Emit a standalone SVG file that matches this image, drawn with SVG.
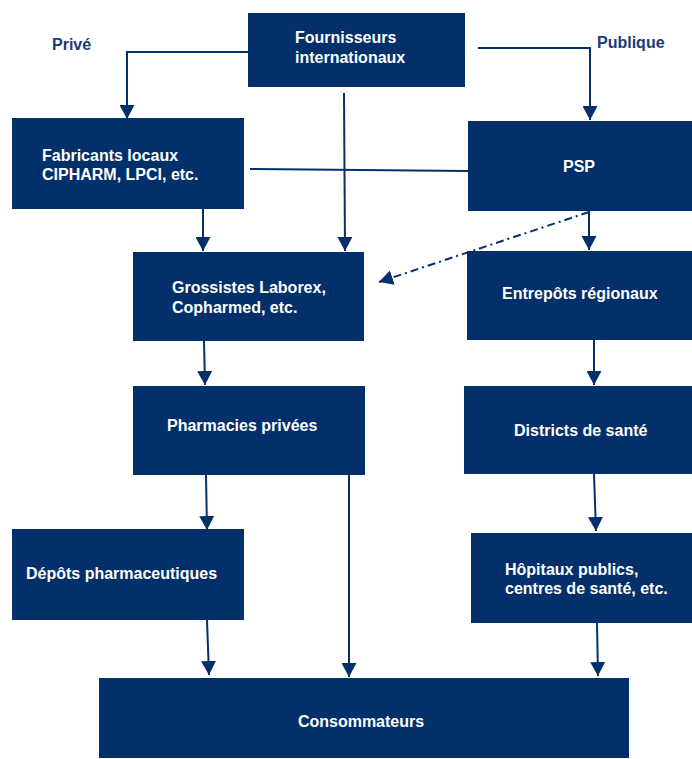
<svg xmlns="http://www.w3.org/2000/svg" width="692" height="759" viewBox="0 0 692 759">
<style>
.box{fill:#03306a}
.t{font-family:"Liberation Sans",Arial,sans-serif;font-weight:bold;font-size:16px;fill:#ffffff}
.lbl{font-family:"Liberation Sans",Arial,sans-serif;font-weight:bold;font-size:16px;fill:#1c3a78}
.c{fill:none;stroke:#03306a;stroke-width:2}
.dd{stroke-dasharray:8,4,2,4}
</style>
<defs>
<marker id="ah" markerUnits="userSpaceOnUse" markerWidth="14" markerHeight="15" refX="14" refY="7.5" orient="auto">
<path d="M0,0 L14,7.5 L0,15 z" fill="#03306a"/>
</marker>
</defs>
<rect width="692" height="759" fill="#ffffff"/>
<text class="lbl" x="52" y="50">Privé</text>
<text class="lbl" x="597" y="48">Publique</text>
<g id="connectors">
<polyline class="c" points="248,52 127,52 127,119" marker-end="url(#ah)"/>
<polyline class="c" points="478,48 590,48 590,120" marker-end="url(#ah)"/>
<line class="c" x1="250" y1="169" x2="468" y2="171"/>
<line class="c" x1="344" y1="93" x2="345" y2="251" marker-end="url(#ah)"/>
<line class="c" x1="203" y1="209" x2="203" y2="251" marker-end="url(#ah)"/>
<line class="c dd" x1="589" y1="212" x2="379" y2="282" marker-end="url(#ah)"/>
<line class="c" x1="589" y1="211" x2="589" y2="250" marker-end="url(#ah)"/>
<line class="c" x1="204" y1="341" x2="205" y2="385" marker-end="url(#ah)"/>
<line class="c" x1="594" y1="340" x2="594" y2="385" marker-end="url(#ah)"/>
<line class="c" x1="206" y1="475" x2="207" y2="530" marker-end="url(#ah)"/>
<line class="c" x1="349" y1="475" x2="349" y2="677" marker-end="url(#ah)"/>
<line class="c" x1="594" y1="474" x2="596" y2="531" marker-end="url(#ah)"/>
<line class="c" x1="207" y1="620" x2="209" y2="675" marker-end="url(#ah)"/>
<line class="c" x1="597" y1="623" x2="598" y2="676" marker-end="url(#ah)"/>
</g>
<g id="fournisseurs">
<rect class="box" x="248" y="13" width="217" height="74"/>
<text class="t" x="295" y="43">Fournisseurs</text>
<text class="t" x="295" y="63">internationaux</text>
</g>
<g id="fabricants">
<rect class="box" x="12" y="118" width="232" height="91"/>
<text class="t" x="42" y="161">Fabricants locaux</text>
<text class="t" x="42" y="180">CIPHARM, LPCI, etc.</text>
</g>
<g id="psp">
<rect class="box" x="468" y="121" width="224" height="90"/>
<text class="t" x="579" y="172" text-anchor="middle">PSP</text>
</g>
<g id="grossistes">
<rect class="box" x="133" y="252" width="231" height="89"/>
<text class="t" x="172" y="293">Grossistes Laborex,</text>
<text class="t" x="172" y="313">Copharmed, etc.</text>
</g>
<g id="entrepots">
<rect class="box" x="467" y="251" width="225" height="89"/>
<text class="t" x="502" y="299">Entrepôts régionaux</text>
</g>
<g id="pharmacies">
<rect class="box" x="133" y="386" width="232" height="89"/>
<text class="t" x="167" y="431">Pharmacies privées</text>
</g>
<g id="districts">
<rect class="box" x="464" y="386" width="228" height="88"/>
<text class="t" x="514" y="436">Districts de santé</text>
</g>
<g id="depots">
<rect class="box" x="12" y="529" width="232" height="91"/>
<text class="t" x="26" y="579">Dépôts pharmaceutiques</text>
</g>
<g id="hopitaux">
<rect class="box" x="471" y="533" width="221" height="90"/>
<text class="t" x="505" y="575">Hôpitaux publics,</text>
<text class="t" x="505" y="594">centres de santé, etc.</text>
</g>
<g id="consommateurs">
<rect class="box" x="99" y="678" width="530" height="80"/>
<text class="t" x="361" y="727" text-anchor="middle">Consommateurs</text>
</g>
</svg>
